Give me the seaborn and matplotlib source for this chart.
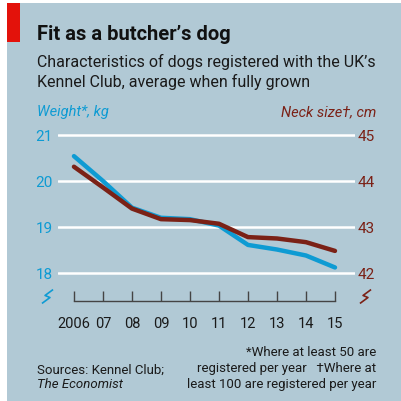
import numpy as np
import pandas as pd
import seaborn as sns
import matplotlib.pyplot as plt
from matplotlib.patches import Rectangle
from matplotlib.path import Path
import matplotlib.transforms as mtransforms

years = [2006, 2007, 2008, 2009, 2010, 2011, 2012, 2013, 2014, 2015]
year_labels = ["2006", "07", "08", "09", "10", "11", "12", "13", "14", "15"]
weight_kg = [20.54, 20.0, 19.42, 19.2, 19.17, 19.03, 18.61, 18.51, 18.38, 18.12]
neck_cm = [44.31, 43.86, 43.40, 43.17, 43.15, 43.07, 42.78, 42.75, 42.67, 42.48]
weight_ticks = [18, 19, 20, 21]
neck_ticks = [42, 43, 44, 45]

df = pd.DataFrame({"year": years, "weight": weight_kg, "neck": neck_cm})

BG = "#b1c9d5"
BLUE = "#0e9bd3"
BROWN = "#7b2116"
RED = "#e3120b"

sns.set_theme(style="white")
plt.rcParams["font.family"] = ["Roboto", "DejaVu Sans"]

W, H = 401, 402
fig = plt.figure(figsize=(W / 100, H / 100), dpi=100)
fig.patch.set_facecolor("white")

def fx(px):
    return px / W

def fy(py):
    return 1 - py / H

# panel background and red tag
fig.patches.append(Rectangle((fx(7), 0), 1 - fx(7), fy(4), transform=fig.transFigure,
                             facecolor=BG, edgecolor="none", zorder=-10))
fig.patches.append(Rectangle((fx(7), fy(43)), fx(13), fy(4) - fy(43), transform=fig.transFigure,
                             facecolor=RED, edgecolor="none", zorder=-9))

ax = fig.add_axes([fx(58), fy(302), fx(355) - fx(58), fy(130) - fy(302)])
ax.set_facecolor("none")
ax2 = ax.twinx()
ax2.set_facecolor("none")

ylo, yhi = 17.391, 21.13
ax.set_yticks(weight_ticks)
ax2.set_yticks(neck_ticks)
ax.grid(axis="y", color="white", lw=1.8)
ax.grid(axis="x", visible=False)
ax2.grid(False)

sns.lineplot(data=df, x="year", y="weight", ax=ax, color=BLUE, lw=3.2)
sns.lineplot(data=df, x="year", y="neck", ax=ax2, color=BROWN, lw=3.2)
ax.set_ylim(ylo, yhi)
ax2.set_ylim(ylo + 24, yhi + 24)
ax.set_xlim(2005.45, 2015.69)

for a in (ax, ax2):
    for s in ("top", "left", "right", "bottom"):
        a.spines[s].set_visible(False)
    a.set_xlabel("")
    a.set_ylabel("")

ax.spines["bottom"].set_visible(True)
ax.spines["bottom"].set_bounds(years[0], years[-1])
ax.spines["bottom"].set_color("#444444")
ax.spines["bottom"].set_linewidth(1)
ax.set_xticks(years)
ax.set_xticklabels(year_labels)
ax.tick_params(axis="x", direction="in", length=7, width=1, color="#444444",
               labelcolor="#1a1a1a", labelsize=10.5, pad=11, bottom=True)
ax.tick_params(axis="y", length=0, labelcolor=BLUE, labelsize=11, pad=4)
ax2.tick_params(axis="y", length=0, labelcolor=BROWN, labelsize=11, pad=2)
ax2.tick_params(axis="x", bottom=False, labelbottom=False)

# axis-break marks
brk = Path([(-0.8, -1.0), (0.35, -0.15), (-0.35, 0.15), (0.8, 1.0)])
tr = mtransforms.blended_transform_factory(ax.transAxes, ax.transData)
ax.plot([-0.037], [17.5], marker=brk, ms=10, mew=1.2, mfc="none", mec=BLUE,
        transform=tr, clip_on=False)
ax.plot([1.034], [17.5], marker=brk, ms=10, mew=1.2, mfc="none", mec=BROWN,
        transform=tr, clip_on=False)

# titles
fig.text(fx(37), fy(35), "Fit as a butcher\u2019s dog", fontsize=14.5, fontweight="bold",
         color="#111111", va="center", ha="left")
fig.text(fx(37), fy(62), "Characteristics of dogs registered with the UK\u2019s",
         fontsize=11.5, color="#1a1a1a", va="center", ha="left")
fig.text(fx(37), fy(82), "Kennel Club, average when fully grown",
         fontsize=11.5, color="#1a1a1a", va="center", ha="left")

fig.text(fx(37), fy(112), "Weight*, kg", fontsize=10.5, style="italic",
         color=BLUE, va="center", ha="left")
fig.text(fx(376), fy(112), "Neck size\u2020, cm", fontsize=10.5, style="italic",
         color=BROWN, va="center", ha="right")

# footnotes
fig.text(fx(37), fy(370), "Sources: Kennel Club;", fontsize=9.5, color="#1a1a1a",
         va="center", ha="left")
fig.text(fx(37), fy(385), "The Economist", fontsize=9.5, style="italic", color="#1a1a1a",
         va="center", ha="left")
fig.text(fx(376), fy(353), "*Where at least 50 are", fontsize=9.5, color="#1a1a1a",
         va="center", ha="right")
fig.text(fx(376), fy(369), "registered per year   \u2020Where at", fontsize=9.5,
         color="#1a1a1a", va="center", ha="right")
fig.text(fx(376), fy(385), "least 100 are registered per year", fontsize=9.5,
         color="#1a1a1a", va="center", ha="right")

fig.savefig("out.png", dpi=100, facecolor=fig.get_facecolor())
